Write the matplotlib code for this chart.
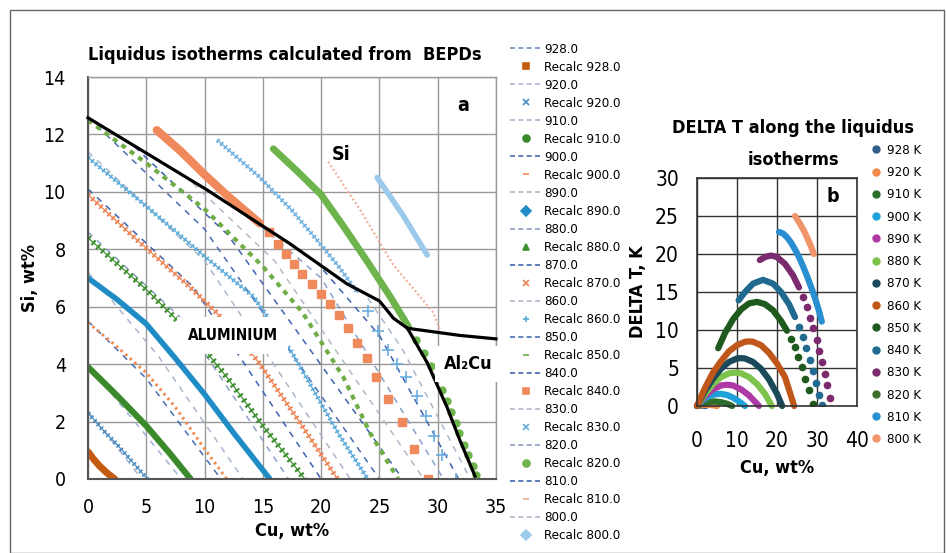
import numpy as np
import matplotlib
matplotlib.use('Agg')
import matplotlib.pyplot as plt
from matplotlib import font_manager
from matplotlib.lines import Line2D
from matplotlib.patches import Rectangle

# pick the narrowest sans that is installed
ttf = font_manager.fontManager.ttflist
names = {f.name for f in ttf}
if 'Liberation Sans Narrow' in names:
    plt.rcParams['font.family'] = ['Liberation Sans Narrow', 'DejaVu Sans']
elif 'DejaVu Sans Condensed' in names:
    plt.rcParams['font.family'] = ['DejaVu Sans Condensed', 'DejaVu Sans']
elif any(f.name == 'DejaVu Sans' and f.stretch == 'condensed' for f in ttf):
    plt.rcParams['font.family'] = ['DejaVu Sans']
    plt.rcParams['font.stretch'] = 'condensed'
else:
    plt.rcParams['font.family'] = ['Liberation Sans', 'DejaVu Sans']

temps = [928, 920, 910, 900, 890, 880, 870, 860, 850, 840, 830, 820, 810, 800]

# calculated isotherms (dashed), Cu / Si in wt%
dash_cu = [[0, 1.1, 2.1], [0, 2.3, 4.6], [0, 4.0, 8.0], [0, 5.0, 11.4],
           [0, 6.0, 13.3], [0, 8.0, 17.2], [0, 9.0, 20.0], [0, 10.0, 22.5],
           [0, 10.0, 25.0], [4.0, 12.0, 27.0], [9.0, 16.0, 28.8],
           [14.0, 20.0, 30.5], [19.5, 25.0, 31.8], [24.0, 27.0, 32.8]]
dash_si = [[0.95, 0.45, 0], [2.35, 1.2, 0], [3.95, 2.0, 0], [5.5, 3.5, 0],
           [7.2, 4.3, 0], [8.6, 5.6, 0], [10.1, 6.7, 0], [11.4, 7.6, 0],
           [12.6, 8.7, 0], [11.57, 8.5, 0], [10.3, 7.6, 0],
           [9.1, 7.0, 0], [7.6, 5.0, 0], [6.3, 4.5, 0]]

# recalculated isotherms
rec_cu = [[0, 0.5, 1.0, 1.6, 2.3],
          [0, 1.3, 2.6, 3.9, 5.1],
          [0, 2.5, 5.0, 7.0, 8.8],
          [0, 2.5, 5.0, 7.5, 10.0, 11.9],
          [0, 2.5, 5.0, 7.5, 10.0, 12.5, 15.6],
          [0, 2.5, 5.0, 8.1, 9.9, 12.0, 15.0, 18.6],
          [0, 4.0, 8.7, 11.0, 13.6, 14.75, 18.2, 21.4],
          [0, 5.0, 10.0, 14.2, 17.5, 21.6, 24.0],
          [0, 5.0, 10.0, 15.0, 18.4, 21.9, 24.2, 26.6],
          [5.9, 8.0, 10.0, 12.0, 14.75],
          [11.1, 14.75, 17.5, 19.9, 21.5, 23.1],
          [15.9, 18.0, 20.0, 22.0, 24.0, 26.0, 27.5],
          [20.6, 23.3, 26.2, 28.7, 29.6, 30.2],
          [24.8, 27.0, 29.1]]
rec_si = [[0.95, 0.68, 0.45, 0.22, 0.0],
          [2.3, 1.7, 1.15, 0.55, 0.0],
          [3.9, 2.9, 1.85, 0.9, 0.0],
          [5.45, 4.6, 3.7, 2.5, 1.05, 0.0],
          [7.0, 6.25, 5.4, 4.2, 2.95, 1.6, 0.0],
          [8.4, 7.5, 6.6, 5.35, 4.55, 3.5, 1.85, 0.0],
          [9.9, 8.4, 6.7, 5.8, 4.6, 4.0, 1.95, 0.0],
          [11.2, 9.5, 7.75, 6.35, 4.4, 1.5, 0.0],
          [12.5, 11.0, 9.4, 7.4, 5.8, 3.55, 1.6, 0.0],
          [12.15, 11.4, 10.6, 9.85, 8.9],
          [11.8, 10.5, 9.35, 8.2, 7.4, 6.5],
          [11.5, 10.7, 9.9, 8.75, 7.55, 6.3, 5.3],
          [11.05, 9.4, 7.45, 6.25, 5.8, 5.2],
          [10.5, 9.2, 7.8]]

# sparse marker tails of 840 / 830 / 820
sq840_cu = [15.5, 16.3, 17.0, 17.7, 18.4, 19.2, 20.0, 20.8, 21.5, 22.3, 23.1,
            23.9, 24.7, 25.7, 26.9, 28.0, 29.2]
sq840_si = [8.6, 8.2, 7.85, 7.5, 7.15, 6.8, 6.45, 6.1, 5.7, 5.25, 4.75,
            4.2, 3.55, 2.8, 2.0, 1.05, 0.0]
pl830_cu = [24.0, 24.9, 25.7, 26.5, 27.3, 28.2, 29.0, 29.7, 30.4, 31.6]
pl830_si = [5.85, 5.15, 4.5, 4.0, 3.55, 2.9, 2.2, 1.5, 0.85, 0.0]
dot820_cu = [28.15, 28.8, 29.4, 29.85, 30.35, 30.8, 31.15, 31.55, 31.85,
             32.25, 32.6, 33.0, 33.3]
dot820_si = [4.85, 4.4, 3.95, 3.55, 3.1, 2.7, 2.35, 1.95, 1.6, 1.2, 0.85,
             0.45, 0.15]

# eutectic valley and Al2Cu boundary
valley_cu = [0, 10.2, 17.3, 22.2, 25.0, 26.2, 27.4, 31.9, 35.0]
valley_si = [12.58, 10.07, 8.2, 6.8, 6.2, 5.6, 5.25, 5.0, 4.88]
al2cu_cu = [27.4, 29.1, 30.8, 31.9, 33.2]
al2cu_si = [5.25, 4.05, 2.5, 1.35, 0.1]

# DELTA T along isotherms (solid part + dotted tail)
dt_cu = [[0, 1.0, 2.2], [0, 1, 2, 3, 4, 5],
         [0, 1.5, 3, 4.5, 6, 7.5, 8.8],
         [0, 1.5, 3, 4.5, 6, 7.5, 9, 10.5, 12],
         [0, 2, 4, 6, 7.5, 9, 11, 13, 15.5],
         [0, 2, 4, 6, 8, 9.5, 11, 13, 15, 17, 18.7],
         [0, 2, 4, 6, 8, 10, 11, 12, 14, 16, 18, 20, 21.3],
         [0, 2, 4, 6, 8, 10, 12, 13, 14, 16, 18, 20, 22, 24.3],
         [5.3, 7, 9, 11, 13, 15, 17, 19, 21, 22.5],
         [10.4, 12, 14, 16.5, 19, 21, 23, 24.5],
         [15.7, 17, 18.5, 20, 22, 24, 25.5],
         [],
         [20.5, 21.5, 22.5, 23.5, 24.5, 25.5, 26.5, 27.5, 28.5, 29.5, 30.5, 31.2],
         [24.5, 25.5, 26.5, 27.5, 28.5, 29.2]]
dt_val = [[0, 0.05, 0], [0, 0.1, 0.15, 0.15, 0.1, 0],
          [0, 0.35, 0.55, 0.6, 0.5, 0.3, 0],
          [0, 0.8, 1.3, 1.55, 1.6, 1.45, 1.1, 0.6, 0],
          [0, 1.3, 2.2, 2.7, 2.8, 2.7, 2.2, 1.4, 0],
          [0, 1.6, 2.9, 3.8, 4.3, 4.4, 4.3, 3.8, 2.9, 1.6, 0],
          [0, 2.0, 3.6, 4.9, 5.8, 6.25, 6.3, 6.25, 5.8, 4.9, 3.5, 1.6, 0],
          [0, 2.4, 4.4, 5.9, 7.2, 8.0, 8.45, 8.5, 8.45, 8.0, 7.0, 5.6, 3.8, 0],
          [7.6, 9.6, 11.4, 12.7, 13.5, 13.7, 13.4, 12.6, 11.2, 9.9],
          [13.9, 15.0, 16.1, 16.6, 16.1, 15.0, 13.4, 11.7],
          [19.2, 19.6, 19.8, 19.6, 18.7, 17.2, 15.6],
          [],
          [22.9, 22.7, 22.2, 21.5, 20.6, 19.6, 18.4, 17.1, 15.7, 14.2, 12.5, 11.1],
          [25.0, 24.2, 23.3, 22.2, 21.0, 20.0]]
tail850_cu = [23.5, 24.4, 25.3, 26.2, 27.1, 28.0, 29.0]
tail850_dt = [8.8, 7.7, 6.5, 5.1, 3.6, 2.1, 0.2]
tail840_cu = [25.5, 26.4, 27.3, 28.2, 29.0, 29.8, 30.5, 31.2]
tail840_dt = [10.4, 9.1, 7.6, 6.1, 4.6, 3.0, 1.5, 0.1]
tail830_cu = [26.5, 27.4, 28.3, 29.1, 29.9, 30.6, 31.3, 32.0, 32.6, 33.3]
tail830_dt = [14.3, 13.0, 11.6, 10.2, 8.65, 7.2, 5.75, 4.2, 2.75, 1.0]

# styles
dash_colors = ['#6f8fbf', '#a9b6cc', '#9fb3d1', '#4a6cb3', '#a9b6cc', '#8aa0c8', '#3f62b0',
               '#a9b6cc', '#4a6cb3', '#3f62b0', '#b0b8c8', '#8aa0c8', '#3f62b0', '#a9b6cc']
rec_colors = ['#c55a11', '#4a8bbf', '#3a8a2b', '#f08a50', '#1f8cc6', '#3e9030', '#ee8352',
              '#58a9da', '#70ad47', '#f08a5d', '#6aaee0', '#6db44c', '#f2a890', '#9ccaea']
rec_kind = ['thick', 'comb', 'thick', 'dot', 'thick', 'comb', 'comb',
            'comb', 'dash', 'thick', 'comb', 'thick', 'dot', 'thick']
rec_lw = [5, 3.5, 4.5, 2.2, 4, 4.5, 4, 3.5, 3, 6, 3.5, 5, 1.6, 4]
rec_markers = ['s', 'x', 'o', '_', 'D', '^', 'x', '+', '_', 's', 'x', 'o', '_', 'D']
dt_colors = ['#2f5f8a', '#f08a4b', '#2c6e2c', '#1ea0d8', '#b03aa5', '#7cc24b', '#1a4a5a',
             '#c0571a', '#1e5a1e', '#1f6a8e', '#7b2a6e', '#3f6f2a', '#2a8fd0', '#f0956a']

fig = plt.figure(figsize=(9.46, 5.53), dpi=100)
fig.patches.append(Rectangle((10 / 946, 0), 934 / 946, 1 - 10 / 553, transform=fig.transFigure,
                             fill=False, edgecolor='#666666', lw=1))

# ---------- left chart ----------
ax1 = fig.add_axes([88 / 946, 74 / 553, 408 / 946, 402 / 553])
ax1.set_xlim(0, 35)
ax1.set_ylim(0, 14)
ax1.set_xticks(range(0, 36, 5))
ax1.set_yticks(range(0, 15, 2))
ax1.grid(True, color='#999999', lw=1)
ax1.set_axisbelow(True)
for s in ['top', 'right']:
    ax1.spines[s].set_color('#999999')
    ax1.spines[s].set_linewidth(1)
for s in ['left', 'bottom']:
    ax1.spines[s].set_color('#555555')
    ax1.spines[s].set_linewidth(1.5)
ax1.tick_params(length=0, labelsize=14)
ax1.tick_params(axis='x', pad=14)
ax1.tick_params(axis='y', pad=16)

for i in range(len(temps)):
    ax1.plot(dash_cu[i], dash_si[i], color=dash_colors[i], lw=1.1, ls=(0, (4, 4)))
for i in range(len(temps)):
    c = rec_colors[i]
    k = rec_kind[i]
    if k == 'thick':
        ax1.plot(rec_cu[i], rec_si[i], color=c, lw=rec_lw[i], solid_capstyle='round')
    elif k == 'comb':
        ax1.plot(rec_cu[i], rec_si[i], color=c, lw=0.9)
        ax1.plot(rec_cu[i], rec_si[i], color=c, lw=rec_lw[i], ls=(0, (0.35, 0.65)))
    elif k == 'dot':
        ax1.plot(rec_cu[i], rec_si[i], color=c, lw=rec_lw[i], ls=(0, (0.8, 1.2)))
    else:
        ax1.plot(rec_cu[i], rec_si[i], color=c, lw=rec_lw[i], ls=(0, (1.2, 1.3)))
ax1.plot(sq840_cu, sq840_si, ls='none', marker='s', ms=6, color=rec_colors[9])
ax1.plot(pl830_cu, pl830_si, ls='none', marker='+', ms=8, mew=1.2, color=rec_colors[10])
ax1.plot(dot820_cu, dot820_si, ls='none', marker='o', ms=5, color=rec_colors[11])

ax1.plot(valley_cu, valley_si, color='black', lw=2.3, zorder=4, clip_on=False)
ax1.plot(al2cu_cu, al2cu_si, color='black', lw=2.3, zorder=4)

ax1.set_title('Liquidus isotherms calculated from  BEPDs', fontsize=13, fontweight='bold',
              pad=12, loc='left')
ax1.set_xlabel('Cu, wt%', fontsize=13, fontweight='bold', labelpad=3)
ax1.set_ylabel('Si, wt%', fontsize=13, fontweight='bold', labelpad=3)
ax1.text(32.2, 13.0, 'a', fontsize=14, fontweight='bold', ha='center', va='center')
ax1.text(21.7, 11.3, 'Si', fontsize=14, fontweight='bold', ha='center', va='center')
ax1.text(12.4, 5.0, 'ALUMINIUM', fontsize=11, fontweight='bold', ha='center', va='center', zorder=6,
         bbox=dict(boxstyle='square,pad=0.7', fc='white', ec='none'))
ax1.text(32.6, 4.0, 'Al₂Cu', fontsize=13, fontweight='bold', ha='center', va='center', zorder=6,
         clip_on=False, bbox=dict(boxstyle='square,pad=0.5', fc='white', ec='none'))

handles = []
labels = []
for i in range(len(temps)):
    handles.append(Line2D([], [], color=dash_colors[i], lw=1.2, ls=(0, (3, 2))))
    labels.append('%.1f' % temps[i])
    handles.append(Line2D([], [], ls='none', marker=rec_markers[i], ms=5, mew=1.2,
                          color=rec_colors[i]))
    labels.append('Recalc %.1f' % temps[i])
fig.legend(handles, labels, loc='upper left', bbox_to_anchor=(510 / 946, 1 - 43 / 553),
           frameon=False, fontsize=9.5, labelspacing=0.38, handlelength=2.4,
           handletextpad=0.2, borderaxespad=0, borderpad=0)

# ---------- right chart ----------
ax2 = fig.add_axes([697 / 946, 147 / 553, 160 / 946, 228 / 553])
ax2.set_xlim(0, 40)
ax2.set_ylim(0, 30)
ax2.set_xticks(range(0, 41, 10))
ax2.set_yticks(range(0, 31, 5))
ax2.grid(True, color='#333333', lw=1)
ax2.set_axisbelow(True)
for s in ax2.spines.values():
    s.set_color('#333333')
    s.set_linewidth(1.2)
ax2.tick_params(length=0, labelsize=15)
ax2.tick_params(axis='x', pad=18)
ax2.tick_params(axis='y', pad=13)

for i in range(len(temps)):
    if len(dt_cu[i]) > 0:
        ax2.plot(dt_cu[i], dt_val[i], color=dt_colors[i], lw=4.5, solid_capstyle='round',
                 clip_on=False)
ax2.plot(tail850_cu, tail850_dt, ls='none', marker='o', ms=4.5, color=dt_colors[8])
ax2.plot(tail840_cu, tail840_dt, ls='none', marker='o', ms=4.5, color=dt_colors[9])
ax2.plot(tail830_cu, tail830_dt, ls='none', marker='o', ms=4.5, color=dt_colors[10])

# two-line title written as two texts
ax2.text(0.6, 1.22, 'DELTA T along the liquidus', transform=ax2.transAxes, fontsize=13,
         fontweight='bold', ha='center', va='center')
ax2.text(0.6, 1.08, 'isotherms', transform=ax2.transAxes, fontsize=13,
         fontweight='bold', ha='center', va='center')
ax2.set_xlabel('Cu, wt%', fontsize=13, fontweight='bold', labelpad=6)
ax2.set_ylabel('DELTA T, K', fontsize=13, fontweight='bold', labelpad=6)
ax2.text(34, 27.6, 'b', fontsize=14, fontweight='bold', ha='center', va='center')

h2 = [Line2D([], [], ls='none', marker='o', ms=5, color=dt_colors[i]) for i in range(len(temps))]
l2 = ['%d K' % t for t in temps]
fig.legend(h2, l2, loc='upper left', bbox_to_anchor=(871 / 946, 1 - 144 / 553),
           frameon=False, fontsize=9.5, labelspacing=0.7, handlelength=0.8,
           handletextpad=0.4, borderaxespad=0, borderpad=0)

fig.savefig('out.png', dpi=100)
